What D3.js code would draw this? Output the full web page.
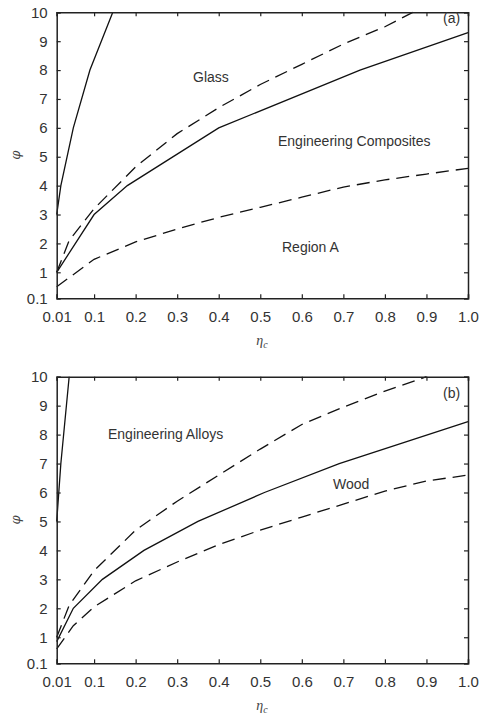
<!DOCTYPE html>
<html>
<head>
<meta charset="utf-8">
<script src="https://cdn.jsdelivr.net/npm/d3@7"></script>
<style>
  body { margin: 0; background: #fff; }
  svg { display: block; }
  .tick text { font-family: "Liberation Sans", Arial, sans-serif; font-size: 15px; fill: #333; }
  .note { font-family: "Liberation Sans", Arial, sans-serif; font-size: 14px; fill: #333; }
</style>
</head>
<body>
<div id="chart"></div>
<script>
// tick values + labels
var xTicks = [0.01, 0.1, 0.2, 0.3, 0.4, 0.5, 0.6, 0.7, 0.8, 0.9, 1.0];
var xTickLabels = ["0.01", "0.1", "0.2", "0.3", "0.4", "0.5", "0.6", "0.7", "0.8", "0.9", "1.0"];
var yTicks = [0.1, 1, 2, 3, 4, 5, 6, 7, 8, 9, 10];
var yTickLabels = ["0.1", "1", "2", "3", "4", "5", "6", "7", "8", "9", "10"];

// panel (a) curves, [eta_c, phi]
var aSteep = [[0.01, 3], [0.02, 4], [0.05, 6], [0.09, 8], [0.145, 10]];
var aGlass = [[0.01, 1], [0.04, 2.1], [0.1, 3.2], [0.2, 4.65], [0.3, 5.8], [0.4, 6.7], [0.5, 7.5], [0.6, 8.2], [0.7, 8.9], [0.8, 9.5], [0.867, 10]];
var aComposites = [[0.01, 1], [0.1, 3], [0.18, 4], [0.4, 6], [0.74, 8], [1.0, 9.3]];
var aRegionA = [[0.01, 0.5], [0.1, 1.45], [0.2, 2.05], [0.3, 2.5], [0.4, 2.9], [0.5, 3.25], [0.6, 3.6], [0.7, 3.95], [0.8, 4.2], [0.9, 4.4], [1.0, 4.6]];

// panel (b) curves
var bSteep = [[0.01, 5], [0.02, 7], [0.04, 10]];
var bAlloys = [[0.01, 1], [0.04, 2.1], [0.1, 3.3], [0.2, 4.7], [0.3, 5.7], [0.4, 6.6], [0.5, 7.5], [0.6, 8.35], [0.7, 8.95], [0.8, 9.5], [0.9, 10]];
var bMiddle = [[0.01, 0.85], [0.05, 2], [0.12, 3], [0.22, 4], [0.35, 5], [0.51, 6], [0.69, 7], [1.0, 8.45]];
var bWood = [[0.01, 0.6], [0.05, 1.4], [0.1, 2.05], [0.2, 2.95], [0.3, 3.6], [0.4, 4.2], [0.5, 4.7], [0.6, 5.15], [0.7, 5.6], [0.8, 6.05], [0.9, 6.4], [1.0, 6.6]];

var width = 480, height = 717;
var svg = d3.select("#chart").append("svg")
    .attr("width", width)
    .attr("height", height);

var x = d3.scaleLinear().domain([0.01, 1.0]).range([56.7, 468]);

function drawPanel(top, bottom, series, notes) {
  var y = d3.scaleLinear().domain([0.1, 10]).range([bottom, top]);
  var g = svg.append("g");

  var line = d3.line()
      .x(function(d) { return x(d[0]); })
      .y(function(d) { return y(d[1]); });

  series.forEach(function(s) {
    g.append("path")
      .datum(s.data)
      .attr("d", line)
      .attr("fill", "none")
      .attr("stroke", "#111")
      .attr("stroke-width", 1.3)
      .attr("stroke-dasharray", s.dashed ? "13,7" : null);
  });

  // axes, ticks pointing inward
  g.append("g")
    .attr("transform", "translate(0," + bottom + ")")
    .call(d3.axisBottom(x).tickValues(xTicks).tickSize(-4).tickPadding(13)
      .tickFormat(function(d, i) { return xTickLabels[i]; }));
  g.append("g")
    .attr("transform", "translate(0," + top + ")")
    .call(d3.axisTop(x).tickValues(xTicks).tickSize(-4).tickFormat(""));
  g.append("g")
    .attr("transform", "translate(" + x.range()[0] + ",0)")
    .call(d3.axisLeft(y).tickValues(yTicks).tickSize(-4).tickPadding(9)
      .tickFormat(function(d, i) { return yTickLabels[i]; }));
  g.append("g")
    .attr("transform", "translate(" + x.range()[1] + ",0)")
    .call(d3.axisRight(y).tickValues(yTicks).tickSize(-4).tickFormat(""));

  g.selectAll(".domain").attr("stroke", "#222").attr("stroke-width", 1.5);
  g.selectAll(".tick line").attr("stroke", "#222").attr("stroke-width", 1.2);

  notes.forEach(function(n) {
    g.append("text")
      .attr("class", "note")
      .attr("x", n.x)
      .attr("y", n.y)
      .text(n.text);
  });

  // axis titles
  g.append("text")
    .attr("transform", "translate(20," + ((top + bottom) / 2) + ") rotate(-90)")
    .attr("text-anchor", "middle")
    .style("font-family", "'DejaVu Serif', 'Liberation Serif', serif")
    .style("font-style", "italic")
    .style("font-size", "13px")
    .style("fill", "#444")
    .text("φ");

  var xl = g.append("text")
    .attr("x", 262)
    .attr("y", bottom + 47)
    .attr("text-anchor", "middle")
    .style("font-family", "'Liberation Serif', 'DejaVu Serif', serif")
    .style("font-style", "italic")
    .style("font-size", "14px")
    .style("fill", "#444");
  xl.append("tspan").text("η");
  xl.append("tspan").attr("dy", 3).style("font-size", "10px").text("c");
}

drawPanel(12.3, 298.3,
  [{data: aSteep, dashed: false}, {data: aGlass, dashed: true},
   {data: aComposites, dashed: false}, {data: aRegionA, dashed: true}],
  [{x: 193, y: 82, text: "Glass"},
   {x: 278, y: 146, text: "Engineering Composites"},
   {x: 282, y: 252, text: "Region A"},
   {x: 443, y: 23, text: "(a)"}]);

drawPanel(376.7, 663.3,
  [{data: bSteep, dashed: false}, {data: bAlloys, dashed: true},
   {data: bMiddle, dashed: false}, {data: bWood, dashed: true}],
  [{x: 108, y: 439, text: "Engineering Alloys"},
   {x: 333, y: 489, text: "Wood"},
   {x: 443, y: 398, text: "(b)"}]);
</script>
</body>
</html>
